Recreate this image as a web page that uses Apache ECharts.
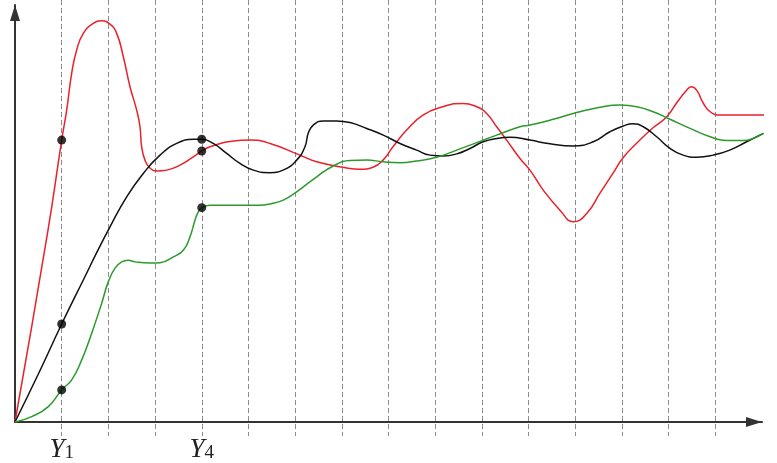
<!DOCTYPE html>
<html><head><meta charset="utf-8">
<script src="https://cdn.jsdelivr.net/npm/echarts@6/dist/echarts.min.js"></script>
<style>html,body{margin:0;padding:0;background:#fff}#c{width:777px;height:463px}</style>
</head><body><div id="c"></div>
<script>
// x: step units (one dashed line per step), y: response 0..100
const redData = [
  [0,0],[0.707,46.0],[1.0,67.6],[1.107,74.8],[1.214,83.6],[1.321,89.2],[1.463,93.2],[1.677,95.6],[1.857,96.2],
  [2.035,95.4],[2.178,93.2],[2.32,87.6],[2.463,80.4],[2.606,74.8],[2.677,70.8],[2.713,66.0],[2.784,62.8],
  [2.891,60.9],[3.035,60.2],[3.249,60.4],[3.534,61.6],[3.819,63.6],[4.0,65.0],[4.177,66.0],[4.676,67.4],
  [5.033,67.6],[5.462,66.8],[6.104,64.0],[6.462,62.4],[7.025,61.1],[7.389,60.6],[7.668,61.1],[7.882,62.8],
  [8.096,66.0],[8.389,70.0],[8.738,73.6],[9.167,75.6],[9.595,76.4],[9.889,75.6],[10.103,74.0],[10.317,70.8],
  [10.531,67.6],[10.816,63.2],[11.03,60.4],[11.315,55.6],[11.673,50.8],[11.958,48.0],[12.245,50.0],[12.53,54.9],
  [12.81,59.7],[13.02,63.3],[13.32,66.9],[13.66,70.5],[13.96,73.2],[14.17,76.5],[14.39,79.6],[14.49,80.4],
  [14.6,79.6],[14.74,76.5],[14.89,74.4],[15.1,73.6],[15.59,73.6],[16.02,73.6],[16.32,73.2]
];
const blackData = [
  [0,0],[0.5,11.5],[1.0,23.5],[1.5,34.9],[1.75,40.6],[2.035,46.8],[2.392,54.0],[2.748,59.6],[3.106,64.0],
  [3.463,66.8],[3.819,67.8],[4.0,67.8],[4.247,66.8],[4.534,64.4],[4.819,62.0],[5.104,60.4],[5.462,59.8],
  [5.74,60.4],[6.033,62.8],[6.211,66.0],[6.282,69.3],[6.389,71.2],[6.603,72.2],[6.89,72.2],[7.175,71.8],
  [7.533,70.4],[7.888,68.8],[8.246,66.8],[8.604,65.2],[8.888,64.0],[9.173,63.8],[9.46,64.3],[9.745,65.6],
  [10.03,67.2],[10.317,68.0],[10.6,68.3],[11.03,67.6],[11.46,66.7],[11.958,66.2],[12.386,67.2],[12.743,69.6],
  [13.03,71.0],[13.24,71.5],[13.457,70.8],[13.744,68.4],[14.03,65.6],[14.31,64.0],[14.6,63.5],[14.956,64.0],
  [15.31,65.2],[15.67,67.2],[16.03,69.2]
];
const greenData = [
  [0,0],[0.358,1.3],[0.713,3.7],[1.0,7.7],[1.214,10.1],[1.429,14.9],[1.643,21.3],[1.857,28.5],[1.998,33.6],
  [2.142,36.9],[2.285,38.4],[2.427,38.8],[2.57,38.4],[2.891,38.1],[3.106,38.2],[3.39,39.6],[3.605,41.2],
  [3.748,44.4],[3.855,48.4],[3.926,50.4],[4.0,51.4],[4.177,52.0],[4.676,52.0],[5.247,52.0],[5.462,52.3],
  [5.746,53.2],[6.033,55.2],[6.462,58.8],[6.817,61.4],[7.175,62.7],[7.533,62.8],[7.888,62.4],[8.246,62.2],
  [8.604,62.6],[9.032,63.5],[9.46,65.2],[9.889,67.0],[10.317,68.8],[10.816,70.8],[11.03,71.2],[11.53,72.6],
  [12.03,74.2],[12.53,75.5],[12.96,76.0],[13.32,75.6],[13.67,74.4],[14.03,72.6],[14.46,70.4],[14.89,68.4],
  [15.24,67.5],[15.6,67.5],[15.81,68.0],[16.03,69.2]
];
const dotPoints = [[1,67.6],[1,23.5],[1,7.7],[4,67.8],[4,65.0],[4,51.4]];
const labelTicks = [1, 4];
const labelSubs = ['1', '4'];

const chart = echarts.init(document.getElementById('c'), null, {renderer: 'canvas'});
const lineS = (data, color) => ({
  type: 'line', xAxisIndex: 1, yAxisIndex: 1, data: data, showSymbol: false, symbol: 'none',
  smooth: 0.5, clip: false, lineStyle: {color: color, width: 1.5}, itemStyle: {color: color}, z: 3
});
chart.setOption({
  animation: false,
  backgroundColor: '#fff',
  grid: [
    {left: 15, right: 15, top: 0, bottom: 27},
    {left: 15, right: 15, top: 5, bottom: 41}
  ],
  xAxis: [
    {gridIndex: 0, type: 'value', min: 0, max: 16, interval: 1,
     axisLine: {show: false}, axisTick: {show: false}, axisLabel: {show: false},
     splitLine: {show: true, showMinLine: false, showMaxLine: false,
                 lineStyle: {color: '#8c8c8c', width: 1, type: [5, 3]}}},
    {gridIndex: 1, type: 'value', min: 0, max: 16, interval: 1,
     axisLine: {show: true, symbol: ['none', 'triangle'], symbolSize: [10, 16], symbolOffset: [0, -8],
                lineStyle: {color: '#333', width: 2}},
     axisTick: {show: false}, splitLine: {show: false},
     axisLabel: {show: true, margin: 11, showMinLabel: false, showMaxLabel: false,
       formatter: function (v) {
         const i = labelTicks.indexOf(Math.round(v * 1000) / 1000);
         return i >= 0 ? '{y|Y}{s|' + labelSubs[i] + '}' : '';
       },
       rich: {
         y: {fontFamily: 'Liberation Serif', fontStyle: 'italic', fontSize: 27, color: '#222', lineHeight: 30, verticalAlign: 'bottom'},
         s: {fontFamily: 'Liberation Serif', fontSize: 19, color: '#222', lineHeight: 20, verticalAlign: 'bottom'}
       }}}
  ],
  yAxis: [
    {gridIndex: 0, type: 'value', min: 0, max: 1, show: false},
    {gridIndex: 1, type: 'value', min: 0, max: 100,
     axisLine: {show: true, symbol: ['none', 'triangle'], symbolSize: [10, 16], symbolOffset: [0, -8],
                lineStyle: {color: '#333', width: 2}},
     axisTick: {show: false}, axisLabel: {show: false}, splitLine: {show: false}}
  ],
  series: [
    lineS(redData, '#e8212a'),
    lineS(blackData, '#111111'),
    lineS(greenData, '#2b9a2b'),
    {type: 'scatter', xAxisIndex: 1, yAxisIndex: 1, data: dotPoints, symbolSize: 9,
     itemStyle: {color: '#000'}, z: 5}
  ]
});
</script></body></html>
